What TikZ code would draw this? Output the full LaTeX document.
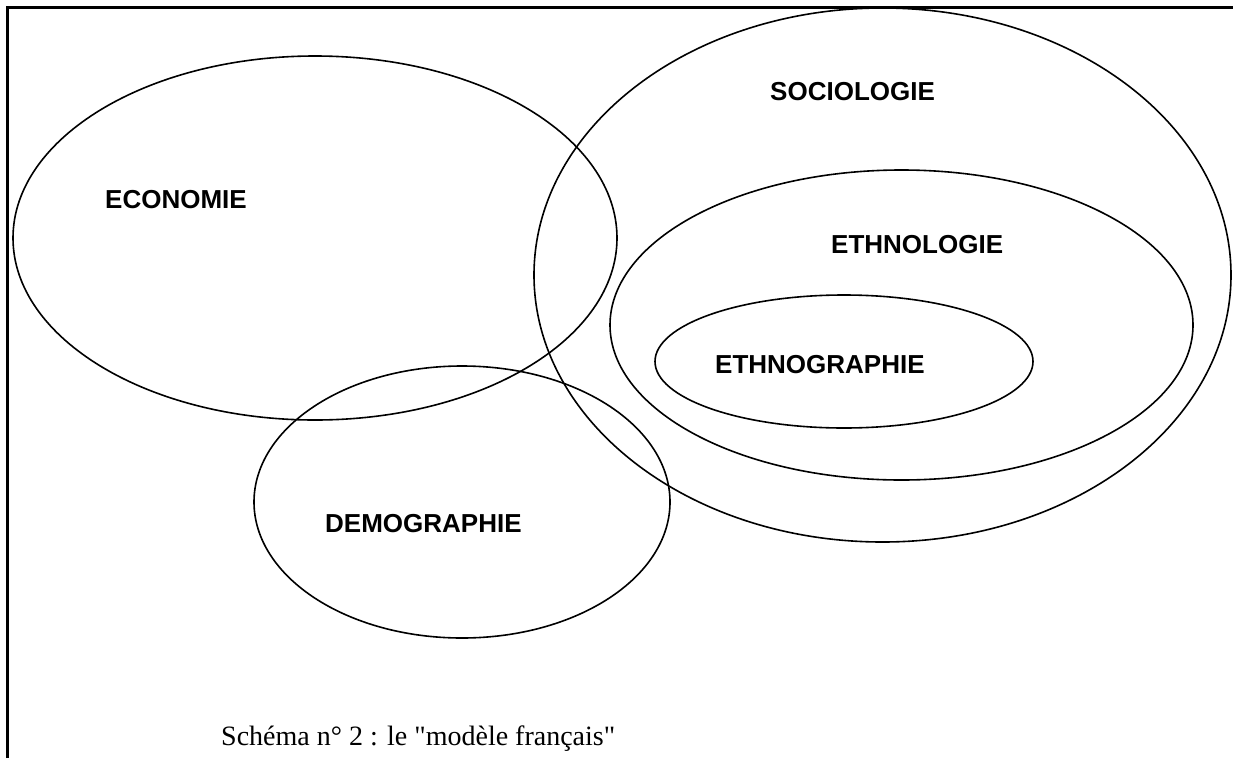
\documentclass[tikz,border=0pt]{standalone}
\usepackage{fontspec}
\setmainfont{Liberation Serif}
\newfontfamily\capfont{Liberation Serif}[Ligatures=TeXOff]
\newfontfamily\labfont{Liberation Sans}
\usetikzlibrary{shapes.geometric}
\tikzset{
  field/.style={ellipse, draw, line width=1.6pt, inner sep=0pt, outer sep=0pt},
  fieldlabel/.style={inner sep=0pt, anchor=base west, font=\labfont\bfseries\fontsize{26}{30}\selectfont},
  frameline/.style={line width=3pt},
  captiontext/.style={inner sep=0pt, anchor=base west, font=\capfont\fontsize{28}{32}\selectfont}
}
\begin{document}
\begin{tikzpicture}[x=1pt,y=-1pt]
\useasboundingbox (0,0) rectangle (1234,758);
\fill[white] (0,0) rectangle (1234,758);
% frame
\coordinate (fbl) at (7.5,758);
\coordinate (ftl) at (7.5,7.5);
\coordinate (ftr) at (1233,7.5);
\draw[frameline] (fbl) -- (ftl) -- (ftr);
% ellipses
\node[field, minimum width=604pt, minimum height=364pt] (eco) at (315,238) {};
\node[field, minimum width=697pt, minimum height=534pt] (soc) at (882.5,275) {};
\node[field, minimum width=583pt, minimum height=310pt] (etl) at (901.5,325) {};
\node[field, minimum width=378pt, minimum height=133pt] (etg) at (844,361.5) {};
\node[field, minimum width=416pt, minimum height=272pt] (dem) at (462,502) {};
% labels
\node[fieldlabel] (tsoc) at (770,100) {SOCIOLOGIE};
\node[fieldlabel] (teco) at (105,208) {ECONOMIE};
\node[fieldlabel] (tetl) at (831,253) {ETHNOLOGIE};
\node[fieldlabel] (tetg) at (715,373) {ETHNOGRAPHIE};
\node[fieldlabel] (tdem) at (325,532) {DEMOGRAPHIE};
% caption
\node[captiontext] (cap) at (221,745) {Schéma n° 2 : le "modèle français"};
\end{tikzpicture}
\end{document}
